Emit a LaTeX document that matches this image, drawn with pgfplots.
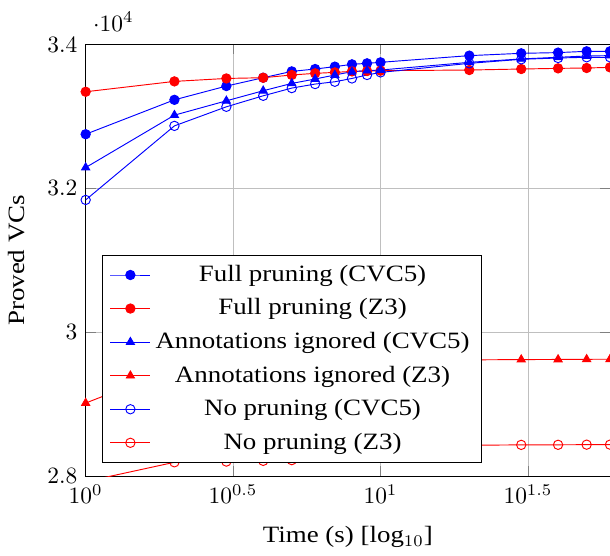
\documentclass[border=0pt]{standalone}
\usepackage{fontspec}
\setmainfont{Liberation Serif}[FakeStretch=1.15]
\usepackage{pgfplots}
\pgfplotsset{compat=1.18}
\begin{document}
\begin{tikzpicture}[trim axis right]
\begin{axis}[
  name=ax,
  scale only axis, width=224pt, height=184.5pt,
  xmode=log, xmin=1, xmax=60,
  ymin=28000, ymax=34000,
  xtick={1,3.16227766,10,31.6227766},
  xticklabels={$10^{0}$,$10^{0.5}$,$10^{1}$,$10^{1.5}$},
  ytick={28000,30000,32000,34000},
  xminorticks=false,
  grid=major,
  xlabel={Time (s) [log$_{10}$]},
  ylabel={Proved VCs},
  xlabel style={yshift=-3pt},
  ylabel style={yshift=3pt},
  legend cell align=center,
  legend style={at={(0.032,0.032)}, anchor=south west, draw=black, fill=white, row sep=1.9pt},
]
\addplot[blue, mark=*] coordinates {(1,32753)(2,33231)(3,33422)(4,33538)(5,33626)(6,33659)(7,33692)(8,33724)(9,33738)(10,33752)(20,33845)(30,33877)(40,33887)(50,33905)(60,33905)};
\addlegendentry{Full pruning (CVC5)}
\addplot[red, mark=*] coordinates {(1,33343)(2,33487)(3,33528)(4,33538)(5,33576)(6,33599)(7,33612)(8,33626)(9,33631)(10,33636)(20,33645)(30,33659)(40,33668)(50,33673)(60,33682)};
\addlegendentry{Full pruning (Z3)}
\addplot[blue, mark=triangle*] coordinates {(1,32290)(2,33018)(3,33217)(4,33357)(5,33459)(6,33520)(7,33576)(8,33622)(9,33636)(10,33645)(20,33752)(30,33799)(40,33822)(50,33840)(60,33845)};
\addlegendentry{Annotations ignored (CVC5)}
\addplot[red, mark=triangle*] coordinates {(1,29018)(2,29500)(3,29545)(4,29568)(5,29582)(6,29590)(7,29597)(8,29602)(9,29606)(10,29609)(20,29618)(30,29622)(40,29624)(50,29626)(60,29627)};
\addlegendentry{Annotations ignored (Z3)}
\addplot[blue, mark=o] coordinates {(1,31840)(2,32869)(3,33134)(4,33287)(5,33394)(6,33450)(7,33482)(8,33528)(9,33576)(10,33612)(20,33738)(30,33794)(40,33812)(50,33822)(60,33822)};
\addlegendentry{No pruning (CVC5)}
\addplot[red, mark=o] coordinates {(1,27927)(2,28195)(3,28205)(4,28215)(5,28225)(6,28270)(7,28310)(8,28340)(9,28365)(10,28385)(20,28432)(30,28437)(40,28438)(50,28440)(60,28440)};
\addlegendentry{No pruning (Z3)}
\end{axis}
\node[inner sep=0pt, minimum size=0pt] at ([yshift=19pt]ax.north west) {};
\end{tikzpicture}
\end{document}
